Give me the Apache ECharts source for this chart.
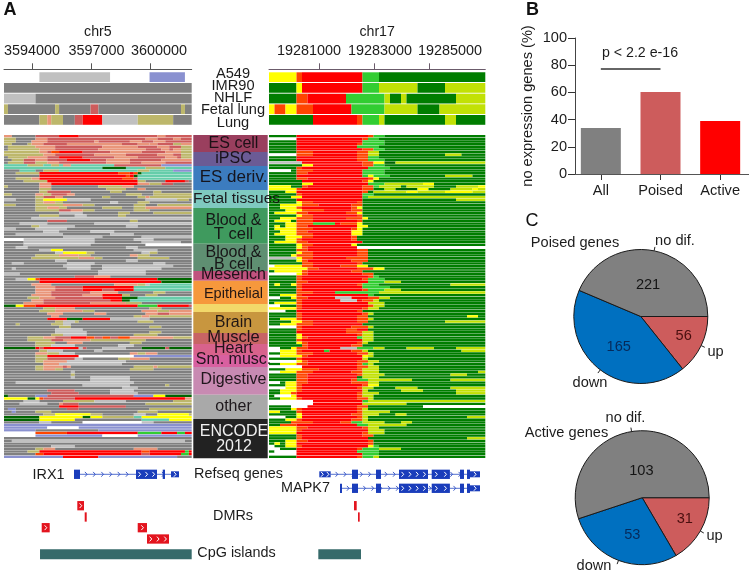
<!DOCTYPE html>
<html><head><meta charset="utf-8">
<style>html,body{margin:0;padding:0;background:#fff}#c{width:750px;height:575px}</style>
<script src="https://cdn.jsdelivr.net/npm/echarts@6/dist/echarts.min.js"></script>
</head><body><div id="c"></div>
<script>
// ---------- data ----------
const stateColors = {G:'#808080',L:'#c0c0c0',K:'#bdb76b',S:'#e9967a',R:'#cd5c5c',X:'#ff0000',O:'#ff4500',Y:'#ffff00',V:'#c2e105',B:'#32cd32',D:'#006400',F:'#007d00',T:'#66cdaa',P:'#8a91d0',W:'#ffffff'};
// each row: state letter + number of 200 bp bins; the last run always reaches the edge
const chr5TopRows = ["W9L18W10P9W","G","L8G","K1G12K1G8R2G21K1G","G9K2S1K3G3R2X5L9K9G"];
const chr17TopRows = ["Y5O1X11B3F","F5Y1X11B3V7F5V","F5O2X7B7V1F2V1F9V","Y1O2Y2O3X7B6V6F4V","F8X8O1B3V1F11V2F"];
const chr5Rows = [
"S2G6R6X5R20S2R7","K3G5S3R25S3R4S2R3","K3G4S4R12S1R8S3R3S3R","K2G4K1S3R6S14R4S3S2R4K2S","G1K7S5R12S9R5S3R3K3","G1K8S4R11S12R4S2R1S2K","K9S2R1O2X6R7S8R6S4K","K10S3R10S8R8S4R2K","G1K5S5R3X6R8S6R7S3R1K","G2K3R3S3R5X6R4S6R8S",
"G1K4R3K3S3R12S6R3S6R","T6K4T2K2T1S2T11R12P","T25D6T5K5T","G4T4G2K4T20K3T6P","G3K6X20O3X1O1D1T","G9X22O1X1D1T","G3K4S2X21O3R1T","G5K6X23K2G5X5R1G","G9S3X22S3K3R3G","K1G8S3G12K6S3G",
"G9K3G14K5G3S2G","G9K2R6G10K3G8K2G","K2G6S2K2R4S2G13K4G3K","G8K2R3S2G10K2G7K2S1K","L3G5K2Y6L6G14L8K3G","G8K2S3K2G12L2G5K3G","K3G5K7S5K3G10K3G3K","G8K3S3K2G9K5G3K3S2","G8K6R3S3K3G10K4G","G14L6G9K3G6K",
"G9K5G4L3G8K2G","G7L41","G11R5G16K2G","G4L7G12L25","G7K2L9G13L3G","L3G5L8G","G10L4G8L6G","G3L12G12L6G","G15L10G10L13","W5L18G10L5G",
"G5L18G12L10G","G5L17G14W","G3L3G25L3G","G9L3Y3G18L6G","G13L2Y6K2G12L2K2G","G8K6S5K3G10S2K3G","G7K12S4K2G9K8G","G13L3G15L3G","G2L3G11L7G15L3G","G15L7G3L18G",
"G2L1G13L6G3L15G","G24L12G","L4G20L12G","G18R5S4G","G3L3Y2O1X30D","G9X31D","G7S5G16S6K2L1T","G8S5R7X13T","G8S5R7X5R3X5T","G8S4R10S7G9K3G",
"G7S5R8S5X5K2G4K3G","G6K3S4R12X5D4T","G7S3R17X3D2T","G5S5R12S9K4G","D3Y2O3X26B5X8R1","G10K3S5G19K3G","G9K4S7K3G12S4K3S","G11S4G8S3G10S3R3S","G12S2G19K2S2K3","G11X5D4X7L10G",
"G13K2L3K1G15K4G","G3K1G8K3L2G","G14K3G20K3G","G13L7G","G13L8G16K3G","G12K3L6G12K6G","G6K4S3R4X4O2R2O2R2O3S11K","G6K6R3S7K14G","G8K5G3S4G12K3G","G8K4L6G11L4G",
"D8X1R1X9L1R1G4L6G4D6R1D","G9K2L4G8L2G","G8S3K3L4G14S2K2S3G","G8K3X8W14P","G8K3R7L2G9K3S5G","G8K2S6L15G","G10S4L16G","G8K2S5R1S1G16K5S1K","G8K2S3K2G17K6G","G17L1G",
"G17K1G","G17L1G4L10G","G22L10G","G3L30G","G20L12G9K1G","G30L4G","G11R7G9L6G","G12R7G8L7G","D1G7P3R22P5Y3D","Y6D2Y1O1R8X28S2R",
"G5L4G6K8L8G12K","G4L7G3S1R4G17K","G14X5R12G","G1P2G13R3G18K","G2P1G5K4G22K5G","G10K3Y9K3G8L3G3Y8K1","D9Y11D2Y3K8T2Y","D9Y9G17T7Y","G9L3G8W15L3G","P",
"P11W8P","P8G16P","W8O8X18B6X4B2X","W8P17W9P","G","G2L44G","G","G12L6G","G8K2S3G20S6G","G6K3X26O2X9B1X",
"G8O2X25R2X8B2X","P15X9P20G"];
const chr17Rows = [
"F5X13O1B2F","W5X12O1B2F","F5X12B4F","F5X11O1B4F","F5X11B4F","F5X12O2B2F","F5O3X8O2V2F","W5O3X8O2V2F12V3F","F5X11O2B2F","F5X11O2B3F",
"L6X11O2Y2D2V","F6Y2X9O2B2F","F5O1X12B4F","W4F1O3X9B4F","F5O2X10B4F","F5X12B1Y1B3F10V5F","F5O2X11O1Y1F","F6X11O1Y1F","F6Y2X10B3V7Y2F","Y4F2O1X10O2B1V4F1V5F4V4Y3",
"Y5O1X11O2F2V2D4Y2F4V4Y1V","F3Y2X12O1F1V6Y2V5Y5V","F5O1X11B2F","F4Y2X11B1V","F5X12F17V","F5Y1O2X8O1F","F2Y4O3X6O2F","F2Y3O1X9O1Y1F","F3Y3O4X5O2F","F1Y4O2X7O2Y1F",
"F5Y1O2X8O1F","F2Y3O3X6O3Y1F","F1Y3F1O3X8O1F","F3Y2O3B4X1O3Y1F","F1Y1F1Y2O2X9Y2F","F1Y4O3X7O1Y1F","F2Y3O2X8Y2F","F1Y4O3X7Y2F","F3Y3O2X7O1F","F3Y2O1X9O1F",
"F1Y4O2X10F","F5Y1O2X7Y1F","F5Y1O1X9W","F5O2X9O2F","F5Y1O2X8O2F","F4Y1O3X8O2F","L5Y1O2X6O4F","F5Y1O1X8O3F","F6O2X8O1F","W1Y5O2X5O3Y2F",
"Y7O2X7O3Y2F","F1Y5O1X8O2F","W5Y1O1X10O2F","F5O1X12O1B1F","F5O1X11O1B3F","F5O2X11B3V3F","F1Y1F2Y1O1X10O1B3F13V","F5O1X11B5F","F5O1X11O1B3V3F","F5O3X4B8V",
"F2Y3O1X12B1F","W2F2Y1O2X5L3X3O2V2F","F5O1X7L3X1O2V1F","F1Y4O1X12V3F","W2F3O1X12O1V2F","Y5O1X11O1V2F","W3F2X11O1F","F5O1X11O1V1F","F5O1X10O2F18Y2F","F2Y3O1X10O2V1F",
"F4Y2O2X8O2F14V","F2Y3O3X9F","W5O1X9O3V1F","F5O1X8O2X2F","F5X9O3V2F","F5Y1X10O1V2F","F5Y1O1X9B1V2F","F5O1X11V2F","F5Y1O1X9O1V1F","F6O1X8O2F",
"W2F2Y1O2X6L3B3V2F4V5F4V","W2Y3O1X4B1X4O2V1F17V","F2Y3O3X8O2V1F","W2Y4O1X10Y1V1F","F5O1X11V1F","W5Y1O1X9O2V2F","F2Y3O2X9O1B1V1F","W6X10O2V2F","F3Y3O3X7O1V3F","W2Y3O3X7O2V3F18V",
"F5O2X9O1V4F12V3F","F5O2X9F1V3F","F5O2X8O1B2V8F7V","W2F1Y2O2X8O3V2F","F3Y2O1X11O1Y2F","W3Y2O1X10O1V2F4V4F6V","F2Y3O1X11V1F6V4F6V","F2Y2O1X11O1V3F14V","F1W3Y1X11O1V2F","F2Y3O1X10O2V1F",
"W8X9B1V","W8X9V8F16V","F4W3X9O2F10W","F4Y1O1X10O1V1F","Y2F3O1X10O1V5F","F5Y1X9O2V3F3V2F","W3F2Y1X10O1V1F18V","F3Y2O1X9O2V1F","F4O4X5O2B2V4F3V2F","F2O3X11B2V7F",
"Y5O2X10O1V2F","Y5O1X12V3F","Y5X12O1V3F","F5O1X11O2F","F5O1X12F18V","F3Y2O2X11O1F","F1Y1F1Y2X13O1F","W1F2Y2O1X12Y1B1F","W2F3X11O1B3V4F","F1W4X11B4F",
"W5X12B3F","F5X11O1B2V1F"];
const topTrackNames = ["A549","IMR90","NHLF","Fetal lung","Lung"];
const bandEndRows = [6.4,11.7,20.75,27.5,41,51.3,55,63.8,66.8,74.7,78.9,83,87.5,98,107.2,122];
const chr5Ticks = [3594000,3597000,3600000];
const chr17Ticks = [19281000,19283000,19285000];
const barCategories = ["All","Poised","Active"];
const barValues = [33.8,60.3,39];
const pieNames = ["up","down","no dif."];
const poisedLabels = ["56","165","221"];
const poisedSlices = [56,165,171];   // wedge sizes as drawn; the drawn grey wedge is narrower than its printed 221
const activeLabels = ["31","53","103"];
const activeSlices = [31,53,103];
// gene tracks, in bp: [start, end, track, kind] (kind 0 tall exon, 1 short exon, 2 DMR, 3 CpG island)
const chr5Features = [[3596135,3596440,0,0],[3599287,3600355,0,0],[3600645,3600762,0,0],[3601067,3601473,0,1],
 [3596303,3596644,2,2],[3596679,3596781,3,2],[3594493,3594900,4,2],[3599374,3599847,4,2],[3599847,3600965,5,2],[3594407,3602119,6,3]];
const chr17Features = [[19281011,19281425,0,1],[19282200,19282418,0,0],[19283072,19283254,0,0],[19283909,19284963,0,0],[19285098,19285760,0,0],[19286127,19286272,0,0],[19286381,19286490,0,0],[19286490,19286854,0,1],
 [19281764,19281836,1,0],[19282200,19282418,1,0],[19283072,19283254,1,0],[19283909,19284963,1,0],[19285098,19285760,1,0],[19286127,19286272,1,0],[19286381,19286490,1,0],[19286490,19286854,1,1],
 [19282273,19282371,2,2],[19282418,19282480,3,2],[19280975,19282527,6,3]];
const chr5Introns = [[3596440,3599287,0],[3600355,3601067,0]];
const chr17Introns = [[19281425,19286381,0],[19281836,19286381,1]];

// ---------- layout and styles ----------
const F = '"Liberation Sans", Arial, sans-serif';
const TXT = '#1c1c1c';
const L5 = {left:4,width:187.7,min:3592576,max:3602119};
const R17 = {left:269,width:216.3,min:19279182,max:19287047};
const bandColors = ['#9a3f5e','#6b5b95','#3c7cbf','#7fc9c0','#3f9a5e','#5f8f72','#c0527e','#f6983c','#f2d86a','#c8963f','#c86464','#d8628c','#d860a0','#c88ab2','#a9a9a9','#222222'];
const trackCenters = [9.3,23.3,40.7,52,62.7,74,89.3];
const featureHeights = [9.3,6,9.3,10];
const featureColors = ['#1a3dbb','#1a3dbb','#e3141e','#366a6a'];

function decode(rows, origin, bins){
  const out = [];
  rows.forEach((row, r) => {
    let pos = 0, last = null;
    for (const m of row.matchAll(/([A-Z])(\d*)/g)) {
      const n = m[2] === '' ? bins - pos : +m[2];
      if (n > 0 && pos < bins) { last = [origin + pos * 200, origin + Math.min(pos + n, bins) * 200, r, m[1]]; out.push(last); }
      pos += n;
    }
    if (last) last[1] = origin + bins * 200;
  });
  return out;
}
function cellSeries(axis, rows, origin, bins, gap){
  const cells = decode(rows, origin, bins);
  return {type:'custom', xAxisIndex:axis, yAxisIndex:axis, silent:true,
    data:cells.map(c => [c[0], c[1], c[2]]),
    renderItem:function(params, api){
      const c = cells[params.dataIndex], cs = params.coordSys;
      const a = api.coord([c[0], c[2]]), b = api.coord([c[1], c[2] + 1]);
      const x0 = Math.max(a[0], cs.x), x1 = Math.min(b[0], cs.x + cs.width);
      if (x1 <= x0) return null;
      return {type:'rect', shape:{x:x0, y:a[1], width:x1 - x0, height:b[1] - a[1] - gap}, style:{fill:stateColors[c[3]]}};
    }};
}
function chevron(x, y, h, color, lw){
  return {type:'polyline', shape:{points:[[x - h * 0.45, y - h],[x + h * 0.45, y],[x - h * 0.45, y + h]]},
    style:{stroke:color, fill:null, lineWidth:lw}};
}
function featureSeries(axis, feats){
  return {type:'custom', xAxisIndex:axis, yAxisIndex:axis, silent:true, z:3, data:feats,
    renderItem:function(params, api){
      const cs = params.coordSys, d = feats[params.dataIndex];
      const a = api.coord([d[0], trackCenters[d[2]]]), b = api.coord([d[1], trackCenters[d[2]]]);
      const x0 = Math.max(a[0], cs.x), x1 = Math.min(b[0], cs.x + cs.width);
      const h = featureHeights[d[3]];
      const kids = [{type:'rect', shape:{x:x0, y:a[1] - h / 2, width:x1 - x0, height:h}, style:{fill:featureColors[d[3]]}}];
      if (d[3] !== 3 && x1 - x0 > 6) {
        const n = Math.max(1, Math.round((x1 - x0) / 7.5));
        for (let i = 0; i < n; i++) kids.push(chevron(x0 + (i + 0.5) * (x1 - x0) / n, a[1], 2.4, '#fff', 1));
      }
      return {type:'group', children:kids};
    }};
}
function intronSeries(axis, introns){
  return {type:'custom', xAxisIndex:axis, yAxisIndex:axis, silent:true, z:2, data:introns,
    renderItem:function(params, api){
      const d = introns[params.dataIndex];
      const a = api.coord([d[0], trackCenters[d[2]]]), b = api.coord([d[1], trackCenters[d[2]]]);
      const kids = [{type:'line', shape:{x1:a[0], y1:a[1], x2:b[0], y2:b[1]}, style:{stroke:'#2a4cc4', lineWidth:0.8}}];
      for (let x = a[0] + 6; x < b[0] - 2; x += 8.2) kids.push(chevron(x, a[1], 2.4, '#2a4cc4', 0.9));
      return {type:'group', children:kids};
    }};
}
const bandData = bandEndRows.map((e, i) => [i === 0 ? 0 : bandEndRows[i - 1], e, i]);
const bandSeries = {type:'custom', xAxisIndex:4, yAxisIndex:4, silent:true, data:bandData,
  renderItem:function(params, api){
    const d = bandData[params.dataIndex];
    const a = api.coord([0, d[0]]), b = api.coord([1, d[1]]);
    return {type:'rect', shape:{x:a[0], y:a[1], width:b[0] - a[0], height:b[1] - a[1]}, style:{fill:bandColors[d[2]]}};
  }};

const grids = [
 {left:L5.left, width:L5.width, top:72.3, height:53.4},
 {left:R17.left, width:R17.width, top:72.3, height:53.4},
 {left:L5.left, width:L5.width, top:135, height:323.3},
 {left:R17.left, width:R17.width, top:135, height:323.3},
 {left:193.3, width:74.4, top:135, height:323.3},
 {left:L5.left, width:L5.width, top:465, height:100},
 {left:R17.left, width:R17.width, top:465, height:100},
 {left:571, width:181, top:38, height:136}
];
function hiddenX(gi, s){ return {gridIndex:gi, type:'value', show:false, min:s.min, max:s.max}; }
function hiddenY(gi, max){ return {gridIndex:gi, type:'value', show:false, min:0, max:max, inverse:true}; }
function genomeAxis(gi, s, name, ticks, lineColor, pads){
  const rich = {};
  pads.forEach((p, i) => { rich['p' + i] = {fontFamily:F, fontSize:14.4, color:TXT, padding:p}; });
  return {gridIndex:gi, type:'value', position:'top', min:s.min, max:s.max, offset:3,
    name:name, nameLocation:'middle', nameGap:30, nameTextStyle:{fontFamily:F, fontSize:14.2, color:TXT},
    axisLine:{show:true, onZero:false, lineStyle:{color:lineColor, width:1}},
    axisTick:{show:true, length:6, customValues:ticks, lineStyle:{color:lineColor}},
    axisLabel:{margin:11, customValues:ticks, hideOverlap:false, formatter:v => '{p' + ticks.indexOf(v) + '|' + v + '}', rich:rich},
    splitLine:{show:false}};
}
function txt(text, x, y, size, opts){
  opts = opts || {};
  return {type:'text', x:x, y:y, z:50, silent:true, rotation:opts.rot || 0,
    style:{text:text, font:(opts.weight || 'normal') + ' ' + size + 'px ' + F, fill:opts.fill || TXT,
      textAlign:opts.align || 'center', textVerticalAlign:'middle', align:opts.align || 'center', verticalAlign:'middle', opacity:opts.op == null ? 1 : opts.op}};
}
const G = [];
G.push(txt('A',10,10,18,{weight:'bold',fill:'#111'}), txt('B',532.5,10,18,{weight:'bold',fill:'#111'}), txt('C',532,221,18,{fill:'#111'}));
[73.5,85.5,98,110,123].forEach((y, i) => G.push(txt(topTrackNames[i],233,y,14.6)));
[['ES cell',144,16],['iPSC',159,16],['ES deriv.',177,17],['Fetal tissues',199,15.5],['Blood &',221,16],['T cell',234,16.5],['Blood &',253,16],['B cell',265,16],['Mesench',275,16],['Epithelial',294,14.6],['Brain',323,16],['Muscle',337,16.5],['Heart',349,16],['Sm. musc.',360,16],['Digestive',380,16],['other',407,16]]
 .forEach(t => G.push(txt(t[0],233.5 - (t[0] === 'Fetal tissues' ? -3 : 0),t[1],t[2],{fill:'#120c10',op:0.92})));
G.push(txt('ENCODE',234,432,16,{fill:'#f0f0f0'}), txt('2012',234,447,16,{fill:'#f0f0f0'}));
G.push(txt('IRX1',48.5,475,14.4), txt('Refseq genes',238.5,474,14.4), txt('MAPK7',305.5,488,14.4), txt('DMRs',233,516.5,14.4), txt('CpG islands',236.5,553,14.4));
G.push(txt('Poised genes',575,243,14.6), txt('Active genes',566.5,433,14.6), txt('p < 2.2 e-16',640,53,14.2));

function pieDecor(values, cx, cy, outer){
  const total = values.reduce((a, b) => a + b, 0);
  let acc = 0;
  values.forEach((v, i) => {
    const mid = (acc + v / 2) / total * 2 * Math.PI; acc += v;
    const c = Math.cos(mid), s = Math.sin(mid);
    G.push({type:'line', z:50, silent:true, shape:{x1:cx + 67 * c, y1:cy + 67 * s, x2:cx + 71 * c, y2:cy + 71 * s}, style:{stroke:'#222', lineWidth:1}});
    G.push(txt(pieNames[i], outer[i][0], outer[i][1], 14.6));
  });
}
pieDecor(poisedSlices, 640.8, 316.5, [[715.5,351.5],[590,383],[675,240.5]]);
pieDecor(activeSlices, 642.2, 497.7, [[714.5,535.7],[594,565.7],[625.5,418]]);

function pie(center, values, labels, shifts){
  const colors = ['#cd5c5c','#0070c0','#808080'];
  const lab = ['#4a0f0f','#062a5a','#141414'];
  return {type:'pie', center:center, radius:[0,67], startAngle:0, clockwise:true, animation:false, silent:true, avoidLabelOverlap:false,
    itemStyle:{borderColor:'#1a1a1a', borderWidth:1},
    label:{show:true, position:'inner', fontFamily:F, fontSize:14.6},
    labelLine:{show:false},
    labelLayout:p => ({dx:shifts[p.dataIndex][0], dy:shifts[p.dataIndex][1]}),
    data:values.map((v, i) => ({name:pieNames[i], value:v, itemStyle:{color:colors[i]}, label:{formatter:labels[i], color:lab[i]}}))};
}

const option = {
 animation:false, backgroundColor:'#fff', textStyle:{fontFamily:F},
 grid:grids.map(g => Object.assign({containLabel:false}, g)),
 xAxis:[
  genomeAxis(0,L5,'chr5',chr5Ticks,'#555',[[0,0,0,0],[0,0,0,11],[0,0,0,18]]),
  genomeAxis(1,R17,'chr17',chr17Ticks,'#6b5b6b',[[0,20,0,0],[0,0,0,12],[0,0,0,42]]),
  hiddenX(2,L5), hiddenX(3,R17),
  {gridIndex:4,type:'value',show:false,min:0,max:1},
  hiddenX(5,L5), hiddenX(6,R17),
  {gridIndex:7,type:'category',data:barCategories,axisLine:{show:false},
   axisTick:{show:true,alignWithLabel:true,length:6,lineStyle:{color:'#333'}},
   axisLabel:{fontFamily:F,fontSize:14.6,color:TXT,margin:9}}
 ],
 yAxis:[
  hiddenY(0,5), hiddenY(1,5), hiddenY(2,122), hiddenY(3,122), hiddenY(4,122), hiddenY(5,100), hiddenY(6,100),
  {gridIndex:7,type:'value',min:0,max:100,interval:20,offset:-4,
   name:'no expression genes (%)',nameLocation:'middle',nameGap:40,nameTextStyle:{fontFamily:F,fontSize:14.6,color:TXT},
   axisLine:{show:true,lineStyle:{color:'#444'}},axisTick:{show:true,length:7,lineStyle:{color:'#333'}},
   axisLabel:{fontFamily:F,fontSize:14.6,color:TXT,margin:8},splitLine:{show:false}}
 ],
 series:[
  cellSeries(0,chr5TopRows,L5.min,49,0.9),
  cellSeries(1,chr17TopRows,R17.min,40,0.9),
  cellSeries(2,chr5Rows,L5.min,49,0.3),
  cellSeries(3,chr17Rows,R17.min,40,0.3),
  bandSeries,
  intronSeries(5,chr5Introns),
  intronSeries(6,chr17Introns),
  featureSeries(5,chr5Features),
  featureSeries(6,chr17Features),
  {type:'bar',xAxisIndex:7,yAxisIndex:7,barWidth:40,silent:true,
   data:barValues.map((v,i)=>({value:v,itemStyle:{color:['#808080','#cd5c5c','#ff0000'][i]}})),
   markLine:{silent:true,symbol:'none',animation:false,label:{show:false},
    data:[
     [{coord:['All',77.5],lineStyle:{color:'#333',width:1.5,type:'solid'}},{coord:['Poised',77.5]}],
     [{x:575,y:174,lineStyle:{color:'#555',width:1,type:'solid'}},{x:749,y:174}]
    ]}},
  pie([640.8,316.5],poisedSlices,poisedLabels,[[10,4],[0,1],[0,4]]),
  pie([642.2,497.7],activeSlices,activeLabels,[[11,3],[3,3],[5,9]])
 ],
 graphic:{elements:G}
};
const chart = echarts.init(document.getElementById('c'),null,{renderer:'canvas'});
chart.setOption(option);
</script></body></html>
